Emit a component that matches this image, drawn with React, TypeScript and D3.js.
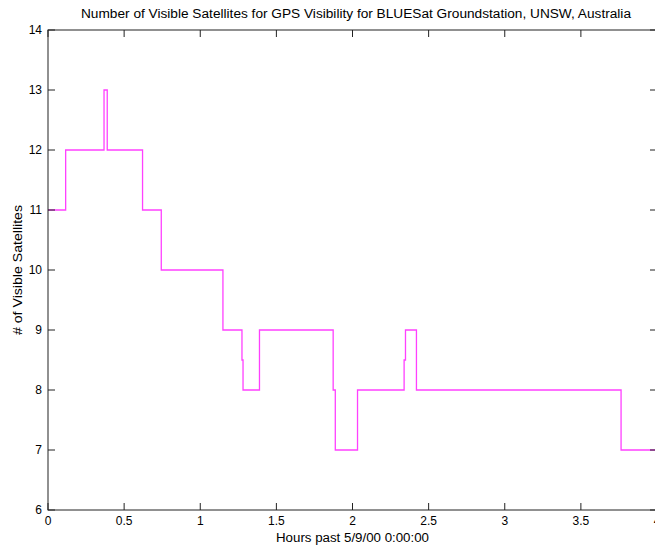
import React, { useEffect, useRef } from 'react';
import * as d3 from 'd3';

// step changes (hours, satellite count)
const hours = [0, 0.116, 0.368, 0.389, 0.621, 0.744, 1.149, 1.274, 1.281, 1.389, 1.873, 1.887, 2.033, 2.339, 2.348, 2.42, 3.764, 4.0];
const satellites = [11, 12, 13, 12, 11, 10, 9, 8.5, 8, 9, 8, 7, 8, 8.5, 9, 8, 7, 7];

const xTicks = [0, 0.5, 1, 1.5, 2, 2.5, 3, 3.5, 4];
const yTicks = [6, 7, 8, 9, 10, 11, 12, 13, 14];

const titleText = 'Number of Visible Satellites for GPS Visibility for BLUESat Groundstation, UNSW, Australia';
const xLabel = 'Hours past 5/9/00 0:00:00';
const yLabel = '# of Visible Satellites';

const App = () => {
    const ref = useRef<HTMLDivElement>(null);

    useEffect(() => {
        d3.select(ref.current).selectAll('*').remove();

        const width = 655;
        const height = 546;
        const margin = { top: 30, right: -2, bottom: 36, left: 48 };
        const font = 'Liberation Sans, Arial, sans-serif';

        const svg = d3.select(ref.current)
            .append('svg')
            .attr('width', width)
            .attr('height', height)
            .style('position', 'absolute')
            .style('left', 0)
            .style('top', 0)
            .style('background', '#fff');

        const x = d3.scaleLinear().domain([0, 4]).range([margin.left, width - margin.right]);
        const y = d3.scaleLinear().domain([6, 14]).range([height - margin.bottom, margin.top]);

        const x0 = x(0), x1 = x(4), y0 = y(6), y1 = y(14);
        const tick = 7;

        // the step line
        const pts: [number, number][] = hours.map((h, i) => [h, satellites[i]]);
        const line = d3.line<[number, number]>()
            .x(d => x(d[0]))
            .y(d => y(d[1]))
            .curve(d3.curveStepAfter);

        svg.append('path')
            .datum(pts)
            .attr('d', line)
            .attr('fill', 'none')
            .attr('stroke', '#ff40ff')
            .attr('stroke-width', 1.3);

        // frame
        svg.append('rect')
            .attr('x', x0)
            .attr('y', y1)
            .attr('width', x1 - x0)
            .attr('height', y0 - y1)
            .attr('fill', 'none')
            .attr('stroke', '#222')
            .attr('stroke-width', 1);

        const ticks = svg.append('g').attr('stroke', '#222').attr('stroke-width', 1);
        xTicks.forEach(t => {
            ticks.append('line').attr('x1', x(t)).attr('x2', x(t)).attr('y1', y0).attr('y2', y0 - tick);
            ticks.append('line').attr('x1', x(t)).attr('x2', x(t)).attr('y1', y1).attr('y2', y1 + tick);
        });
        yTicks.forEach(t => {
            ticks.append('line').attr('x1', x0).attr('x2', x0 + tick).attr('y1', y(t)).attr('y2', y(t));
            ticks.append('line').attr('x1', x1).attr('x2', x1 - tick).attr('y1', y(t)).attr('y2', y(t));
        });

        // tick labels
        svg.append('g')
            .selectAll('text')
            .data(xTicks)
            .join('text')
            .attr('x', d => x(d))
            .attr('y', y0 + 15)
            .attr('text-anchor', 'middle')
            .style('font-family', font)
            .style('font-size', '12px')
            .text(d => String(d));

        svg.append('g')
            .selectAll('text')
            .data(yTicks)
            .join('text')
            .attr('x', x0 - 6)
            .attr('y', d => y(d) + 4)
            .attr('text-anchor', 'end')
            .style('font-family', font)
            .style('font-size', '12px')
            .text(d => String(d));

        // titles
        svg.append('text')
            .attr('x', 356)
            .attr('y', 18)
            .attr('text-anchor', 'middle')
            .attr('textLength', 550)
            .attr('lengthAdjust', 'spacingAndGlyphs')
            .style('font-family', font)
            .style('font-size', '12px')
            .text(titleText);

        svg.append('text')
            .attr('x', (x0 + x1) / 2)
            .attr('y', 542)
            .attr('text-anchor', 'middle')
            .attr('textLength', 153)
            .attr('lengthAdjust', 'spacingAndGlyphs')
            .style('font-family', font)
            .style('font-size', '12px')
            .text(xLabel);

        svg.append('text')
            .attr('transform', `translate(22,${(y0 + y1) / 2}) rotate(-90)`)
            .attr('text-anchor', 'middle')
            .attr('textLength', 130)
            .attr('lengthAdjust', 'spacingAndGlyphs')
            .style('font-family', font)
            .style('font-size', '12px')
            .text(yLabel);
    }, []);

    return <div ref={ref}></div>;
};

export default App;
